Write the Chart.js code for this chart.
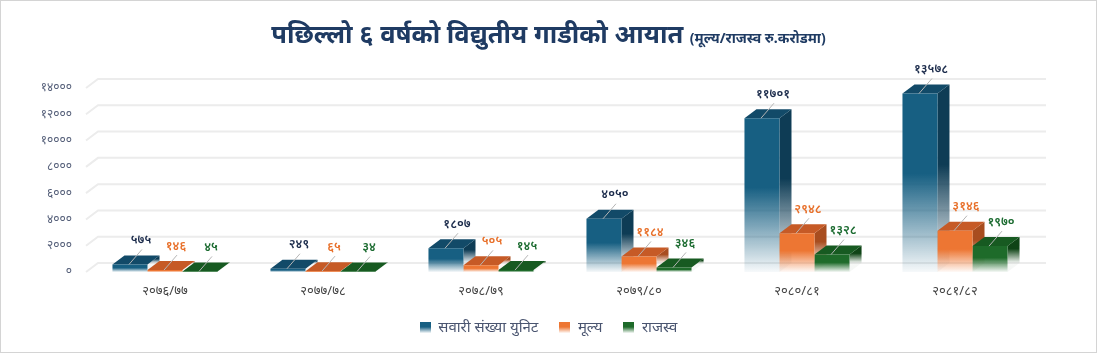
<!DOCTYPE html>
<html>
<head>
<meta charset="utf-8">
<script src="https://cdn.jsdelivr.net/npm/chart.js@4.4.1/dist/chart.umd.min.js"></script>
<style>
  body { margin: 0; background: #fff; }
  #wrap { position: relative; width: 1097px; height: 353px; font-family: "Noto Sans", sans-serif; }
  #frame { position: absolute; left: 0; top: 0; right: 0; bottom: 0; border: 1px solid #d4d4d4; pointer-events: none; }
  #title { position: absolute; left: 0; width: 100%; top: 16px; text-align: center; color: #1f3b63; font-weight: bold; font-size: 25.5px; }
  #title span { font-size: 14px; }
</style>
</head>
<body>
<div id="wrap">
  <div id="title">पछिल्लो ६ वर्षको विद्युतीय गाडीको आयात <span>(मूल्य/राजस्व रु.करोडमा)</span></div>
  <canvas id="mycanvas" width="1097" height="353"></canvas>
  <div id="frame"></div>
</div>
<script>
var categories = ['२०७६/७७', '२०७७/७८', '२०७८/७९', '२०७९/८०', '२०८०/८१', '२०८१/८२'];
var seriesNames = ['सवारी संख्या युनिट', 'मूल्य', 'राजस्व'];
var vehicleUnits = [575, 249, 1807, 4050, 11701, 13578];
var importValue = [146, 65, 505, 1184, 2948, 3146];
var revenue = [45, 34, 145, 346, 1328, 1970];
var yMax = 14000;
var yStep = 2000;

// front / top / side colours for each series
var faces = [
	{front: [23, 95, 130], top: [18, 74, 104], side: [14, 60, 85], label: '#1b2b4b'},
	{front: [237, 118, 51], top: [198, 90, 38], side: [168, 77, 31], label: '#e8702a'},
	{front: [30, 107, 42], top: [23, 90, 33], side: [15, 68, 22], label: '#1b6b30'}
];
var depthX = 12, depthY = 9;

var devDigits = '०१२३४५६७८९';
function toDev(n) {
	return String(n).replace(/\d/g, function(d) { return devDigits[d]; });
}
function rgb(c, a) {
	return 'rgba(' + c[0] + ',' + c[1] + ',' + c[2] + ',' + (a === undefined ? 1 : a) + ')';
}
function fadeGradient(ctx, c, top, base) {
	var g = ctx.createLinearGradient(0, top, 0, base);
	g.addColorStop(0, rgb(c));
	g.addColorStop(0.45, rgb(c));
	g.addColorStop(1, rgb(c, 0.04));
	return g;
}

function legendIcon(c) {
	var cv = document.createElement('canvas');
	cv.width = 11; cv.height = 11;
	var x = cv.getContext('2d');
	x.fillStyle = fadeGradient(x, c, 0, 11);
	x.fillRect(0, 0, 11, 11);
	return cv;
}

var bar3d = {
	id: 'bar3d',
	beforeDatasetsDraw: function(chart) {
		var ctx = chart.ctx, area = chart.chartArea, y = chart.scales.y;
		ctx.save();
		// back grid lines with a slanted floor edge
		ctx.strokeStyle = '#ececec';
		ctx.lineWidth = 2;
		y.ticks.forEach(function(t) {
			var py = y.getPixelForValue(t.value);
			ctx.beginPath();
			ctx.moveTo(area.left, py);
			ctx.lineTo(area.left + depthX, py - depthY);
			ctx.lineTo(area.right + depthX, py - depthY);
			ctx.stroke();
		});
		// side and top faces, series in order so later ones sit in front
		chart.data.datasets.forEach(function(ds, i) {
			var f = faces[i];
			chart.getDatasetMeta(i).data.forEach(function(bar) {
				var p = bar.getProps(['x', 'y', 'base', 'width'], true);
				var L = p.x - p.width / 2, R = p.x + p.width / 2;
				ctx.fillStyle = fadeGradient(ctx, f.side, p.y - depthY, p.base - depthY);
				ctx.beginPath();
				ctx.moveTo(R, p.y);
				ctx.lineTo(R + depthX, p.y - depthY);
				ctx.lineTo(R + depthX, p.base - depthY);
				ctx.lineTo(R, p.base);
				ctx.closePath();
				ctx.fill();
				ctx.fillStyle = rgb(f.top);
				ctx.beginPath();
				ctx.moveTo(L, p.y);
				ctx.lineTo(L + depthX, p.y - depthY);
				ctx.lineTo(R + depthX, p.y - depthY);
				ctx.lineTo(R, p.y);
				ctx.closePath();
				ctx.fill();
			});
		});
		ctx.restore();
	},
	afterDatasetsDraw: function(chart) {
		var ctx = chart.ctx;
		ctx.save();
		chart.data.datasets.forEach(function(ds, i) {
			chart.getDatasetMeta(i).data.forEach(function(bar, j) {
				var p = bar.getProps(['x', 'y'], true);
				ctx.strokeStyle = '#b5b5b5';
				ctx.lineWidth = 1;
				ctx.beginPath();
				ctx.moveTo(p.x - 1, p.y);
				ctx.lineTo(p.x + 12, p.y - 15);
				ctx.stroke();
				ctx.fillStyle = faces[i].label;
				ctx.font = '600 12.5px "Noto Sans", sans-serif';
				ctx.textAlign = 'center';
				ctx.textBaseline = 'middle';
				ctx.fillText(toDev(ds.data[j]), p.x + 11, p.y - 24);
			});
		});
		ctx.restore();
	}
};

var ctx = document.getElementById('mycanvas');
var values = [vehicleUnits, importValue, revenue];

var chartdata = {
	labels: categories,
	datasets: seriesNames.map(function(name, i) {
		return {
			label: name,
			data: values[i],
			backgroundColor: function(c) {
				var ch = c.chart;
				if (!ch.chartArea || c.raw === undefined) return rgb(faces[i].front);
				var sy = ch.scales.y;
				return fadeGradient(ch.ctx, faces[i].front, sy.getPixelForValue(c.raw), sy.getPixelForValue(0));
			},
			borderWidth: 0,
			categoryPercentage: 0.665,
			barPercentage: 1
		};
	})
};

var barGraph = new Chart(ctx, {
	type: 'bar',
	data: chartdata,
	plugins: [bar3d],
	options: {
		responsive: false,
		animation: false,
		layout: { padding: { top: 88, right: 0, bottom: 8, left: 0 } },
		plugins: {
			tooltip: { enabled: false },
			legend: {
				position: 'bottom',
				labels: {
					usePointStyle: true,
					boxWidth: 11,
					boxHeight: 11,
					padding: 21,
					color: '#4a5570',
					font: { family: '"Noto Sans", sans-serif', size: 15 },
					generateLabels: function(chart) {
						var items = Chart.defaults.plugins.legend.labels.generateLabels(chart);
						items.forEach(function(it, i) { it.pointStyle = legendIcon(faces[i].front); });
						return items;
					}
				}
			}
		},
		scales: {
			x: {
				grid: { display: false },
				border: { display: false },
				ticks: { color: '#444', padding: 3, font: { family: '"Noto Sans", sans-serif', size: 13 } },
				afterFit: function(s) { s.height = 27; }
			},
			y: {
				min: 0,
				max: yMax,
				grid: { display: false },
				border: { display: false },
				ticks: {
					stepSize: yStep,
					color: '#56607a',
					padding: 6,
					font: { family: '"Noto Sans", sans-serif', size: 12 },
					callback: function(v) { return toDev(v); }
				},
				afterFit: function(s) { s.width = 86; }
			},
			// empty right-hand strip so the plot stops short of the edge
			spacer: {
				type: 'linear',
				position: 'right',
				grid: { display: false },
				border: { display: false },
				ticks: { display: false },
				afterFit: function(s) { s.width = 63; }
			}
		}
	}
});
</script>
</body>
</html>
